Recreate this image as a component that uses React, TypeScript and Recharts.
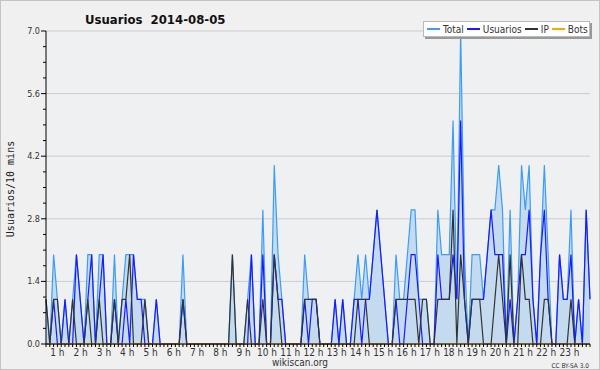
import React from 'react'
import { ComposedChart, Area, Line, XAxis, YAxis, CartesianGrid } from 'recharts'

// one value every 10 minutes, 00:00 -> 23:50 (12 values per row = 2 hours)
const USUARIOS = [
  0, 0, 1, 0, 0, 1, 0, 0, 2, 1, 0, 1,
  2, 0, 1, 2, 0, 0, 1, 0, 0, 1, 0, 2,
  1, 1, 0, 0, 0, 1, 0, 0, 0, 0, 0, 0,
  1, 0, 0, 0, 0, 0, 0, 0, 0, 0, 0, 0,
  0, 0, 0, 0, 0, 0, 2, 0, 0, 2, 0, 0,
  2, 1, 1, 0, 0, 0, 0, 0, 1, 0, 1, 1,
  0, 0, 0, 0, 1, 0, 1, 0, 0, 1, 1, 0,
  1, 1, 2, 3, 2, 1, 0, 0, 1, 0, 0, 1,
  2, 2, 1, 0, 0, 0, 0, 2, 1, 1, 1, 2,
  1, 5, 1, 0, 1, 1, 1, 1, 2, 3, 2, 2,
  2, 0, 1, 0, 1, 2, 2, 3, 1, 0, 2, 3,
  1, 0, 0, 2, 1, 1, 2, 0, 1, 0, 3, 1,
]

const IP = [
  1, 0, 1, 1, 0, 0, 0, 1, 0, 0, 0, 1,
  0, 0, 1, 0, 0, 0, 1, 0, 1, 1, 2, 0,
  0, 0, 1, 0, 0, 0, 0, 0, 0, 0, 0, 0,
  1, 0, 0, 0, 0, 0, 0, 0, 0, 0, 0, 0,
  0, 2, 0, 0, 0, 1, 0, 0, 0, 1, 0, 0,
  2, 1, 0, 0, 0, 0, 0, 0, 1, 1, 1, 1,
  0, 0, 0, 0, 0, 0, 0, 0, 0, 0, 1, 1,
  1, 0, 0, 0, 0, 0, 0, 0, 1, 1, 1, 1,
  1, 1, 0, 1, 1, 0, 0, 1, 1, 1, 1, 3,
  0, 2, 1, 0, 1, 1, 1, 0, 0, 0, 1, 2,
  1, 0, 2, 0, 0, 2, 1, 1, 0, 0, 0, 1,
  1, 0, 0, 0, 0, 0, 1, 0, 0, 0, 0, 0,
]

const TOTAL = [
  1, 0, 2, 1, 0, 1, 0, 1, 2, 1, 0, 2,
  2, 0, 2, 2, 0, 0, 2, 0, 1, 2, 2, 2,
  1, 1, 1, 0, 0, 1, 0, 0, 0, 0, 0, 0,
  2, 0, 0, 0, 0, 0, 0, 0, 0, 0, 0, 0,
  0, 2, 0, 0, 0, 1, 2, 0, 0, 3, 0, 0,
  4, 2, 1, 0, 0, 0, 0, 0, 2, 1, 1, 1,
  0, 0, 0, 0, 1, 0, 1, 0, 0, 1, 2, 1,
  2, 1, 2, 3, 2, 1, 0, 0, 2, 1, 1, 2,
  3, 3, 1, 1, 1, 0, 0, 3, 2, 2, 2, 5,
  1, 7, 2, 0, 2, 2, 2, 1, 2, 3, 3, 4,
  3, 0, 3, 0, 1, 4, 3, 4, 1, 0, 2, 4,
  2, 0, 0, 2, 1, 1, 3, 0, 1, 0, 3, 1,
]

const BOTS = [
  0, 0, 0, 0, 0, 0, 0, 0, 0, 0, 0, 0,
  0, 0, 0, 0, 0, 0, 0, 0, 0, 0, 0, 0,
  0, 0, 0, 0, 0, 0, 0, 0, 0, 0, 0, 0,
  0, 0, 0, 0, 0, 0, 0, 0, 0, 0, 0, 0,
  0, 0, 0, 0, 0, 0, 0, 0, 0, 0, 0, 0,
  0, 0, 0, 0, 0, 0, 0, 0, 0, 0, 0, 0,
  0, 0, 0, 0, 0, 0, 0, 0, 0, 0, 0, 0,
  0, 0, 0, 0, 0, 0, 0, 0, 0, 0, 0, 0,
  0, 0, 0, 0, 0, 0, 0, 0, 0, 0, 0, 0,
  0, 0, 0, 0, 0, 0, 0, 0, 0, 0, 0, 0,
  0, 0, 0, 0, 0, 0, 0, 0, 0, 0, 0, 0,
  0, 0, 0, 0, 0, 0, 0, 0, 0, 0, 0, 0,
]

const Y_TICKS = [0, 0.35, 0.7, 1.05, 1.4, 1.75, 2.1, 2.45, 2.8, 3.15, 3.5, 3.85, 4.2, 4.55, 4.9, 5.25, 5.6, 5.95, 6.3, 6.65, 7]
const Y_LABELED = [0, 1.4, 2.8, 4.2, 5.6, 7]

const HOUR_TICKS = [1, 2, 3, 4, 5, 6, 7, 8, 9, 10, 11, 12, 13, 14, 15, 16, 17, 18, 19, 20, 21, 22, 23]
const HOUR_LABELS = ['1 h', '2 h', '3 h', '4 h', '5 h', '6 h', '7 h', '8 h', '9 h', '10 h', '11 h', '12 h',
  '13 h', '14 h', '15 h', '16 h', '17 h', '18 h', '19 h', '20 h', '21 h', '22 h', '23 h']

const SERIES = [
  { name: 'Total', color: '#3d9df2' },
  { name: 'Usuarios', color: '#1a1aff' },
  { name: 'IP', color: '#333333' },
  { name: 'Bots', color: '#ffa500' },
]

const FONT = "'DejaVu Sans Condensed', 'DejaVu Sans', sans-serif"

// the hour labels of the original sit on a slightly wider hour scale than the data
const H_START = 0.51
const H_END = 23.878

const rows = TOTAL.map((t, i) => ({ i, total: t, usuarios: USUARIOS[i], ip: IP[i], bots: BOTS[i] }))
const LAST = rows.length - 1
const minorTicks = rows.map(r => r.i)
const hourPos = HOUR_TICKS.map(h => ((h - H_START) * LAST) / (H_END - H_START))

function XTick({ x, y, payload }: any) {
  const v = payload.value
  if (Number.isInteger(v)) {
    return <line x1={x} x2={x} y1={y} y2={y + 3} stroke="#000" />
  }
  const k = hourPos.indexOf(v)
  return (
    <text x={x} y={y + 12} textAnchor="middle" fontSize={10} fill="#333" fontFamily={FONT}>
      {HOUR_LABELS[k]}
    </text>
  )
}

function YTick({ x, y, payload }: any) {
  const major = Y_LABELED.includes(payload.value)
  return (
    <g>
      <line x1={x - (major ? 5 : 3)} x2={x} y1={y} y2={y} stroke="#000" />
      {major && (
        <text x={x - 6} y={y} dy={3} textAnchor="end" fontSize={9} fill="#333" fontFamily={FONT}>
          {payload.value.toFixed(1)}
        </text>
      )}
    </g>
  )
}

function ChartLegend() {
  return (
    <div style={{
      position: 'absolute', left: 422, top: 20, width: 167, height: 16, boxSizing: 'border-box',
      background: '#fff', border: '1px solid #bbb', boxShadow: '2px 2px 0 #999',
      display: 'flex', alignItems: 'center', paddingLeft: 3, gap: 3,
      fontFamily: FONT, fontSize: 10, color: '#333',
    }}>
      {SERIES.map(s => (
        <div key={s.name} style={{ display: 'flex', alignItems: 'center', gap: 3 }}>
          <span style={{ width: 13, height: 1.5, background: s.color }} />
          <span>{s.name}</span>
        </div>
      ))}
    </div>
  )
}

export default function App() {
  return (
    <div style={{
      position: 'absolute', left: 0, top: 0, width: 600, height: 370, boxSizing: 'border-box',
      background: '#f0f0f0', border: '1px solid #c4c4c4', fontFamily: FONT,
    }}>
      <div style={{ position: 'absolute', left: -1, top: -1 }}>
        <ComposedChart width={600} height={370} data={rows} margin={{ top: 31, right: 10, bottom: 6, left: 0 }}>
          <CartesianGrid vertical={false} horizontalValues={Y_LABELED} stroke="#cccccc" fill="#eff0f2" />
          <XAxis dataKey="i" type="number" domain={[0, LAST]} ticks={[...minorTicks, ...hourPos]} interval={0}
            tickSize={0} tickMargin={0} tickLine={false} tick={<XTick />} height={20} stroke="#000" />
          <YAxis type="number" domain={[0, 7]} ticks={Y_TICKS} interval={0} width={46}
            tickSize={0} tickMargin={0} tickLine={false} tick={<YTick />} stroke="#000" />
          <Area type="linear" dataKey="total" stroke="#3d9df2" strokeWidth={1.2} fill="#c3daef" fillOpacity={1}
            dot={false} activeDot={false} isAnimationActive={false} />
          <Line type="linear" dataKey="usuarios" stroke="#1a1aff" strokeWidth={1.2}
            dot={false} activeDot={false} isAnimationActive={false} />
          <Line type="linear" dataKey="ip" stroke="#333333" strokeWidth={1.2}
            dot={false} activeDot={false} isAnimationActive={false} />
          <Line type="linear" dataKey="bots" stroke="#ffa500" strokeWidth={1.2}
            dot={false} activeDot={false} isAnimationActive={false} />
        </ComposedChart>
      </div>
      <svg width={600} height={370} style={{ position: 'absolute', left: -1, top: -1, pointerEvents: 'none' }}>
        <text x={85} y={24} fontSize={13} fontWeight="bold" fill="#111" style={{ whiteSpace: 'pre' }}>
          Usuarios  2014-08-05
        </text>
        <text x={14} y={189} fontSize={10} fill="#222" textAnchor="middle"
          fontFamily="'DejaVu Sans Mono', monospace" transform="rotate(-90 14 189)">
          Usuarios/10 mins
        </text>
        <text x={300} y={366} fontSize={10} fill="#333" textAnchor="middle">wikiscan.org</text>
        <text x={589} y={368} fontSize={6.5} fill="#333" textAnchor="end">CC BY-SA 3.0</text>
      </svg>
      <ChartLegend />
    </div>
  )
}
